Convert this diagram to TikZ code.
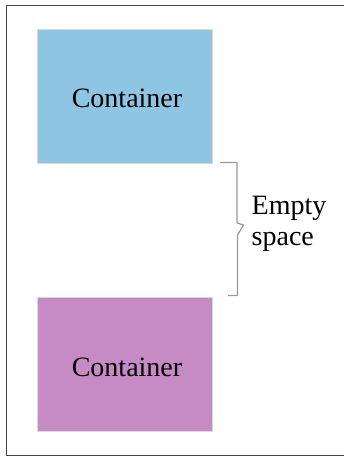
\documentclass[tikz,border=0pt]{standalone}
\usepackage{fontspec}
\setmainfont{Liberation Serif}
\newfontfamily\timesfont{Liberation Serif}
\definecolor{boxblue}{HTML}{8DC5E2}
\definecolor{boxpink}{HTML}{C68BC5}
\definecolor{framegray}{HTML}{444444}
\definecolor{bracegray}{HTML}{999999}
\begin{document}
\begin{tikzpicture}[x=1bp,y=-1bp,
  container/.style={draw=black!15, line width=0.6bp, minimum width=175bp, minimum height=134bp, inner sep=0pt,
    font=\timesfont\fontsize{28bp}{32bp}\selectfont, text depth=0pt},
  label/.style={font=\timesfont\fontsize{28bp}{31bp}\selectfont, align=left, inner sep=0pt}]
\useasboundingbox (0,0) rectangle (344,457);
\draw[framegray, line width=1.3bp] (344,5.5) -- (6.5,5.5) -- (6.5,455.5) -- (344,455.5);
\node[container, fill=boxblue] (top) at (124.5,96) {\hspace*{5bp}\raisebox{-5bp}{Container}};
\node[container, fill=boxpink] (bottom) at (124.5,364) {\hspace*{5bp}\raisebox{-6bp}{Container}};
\coordinate (bt) at (220,162.5);
\coordinate (bb) at (228,295.5);
\draw[bracegray, line width=1.2bp, line join=miter]
  (bt) -- (237,162.5) -- (237,223) -- (243.5,225) -- (237.5,235) -- (237.5,295.5) -- (bb);
\node[label, anchor=west] (empty) at (251.5,224) {Empty\\space};
\end{tikzpicture}
\end{document}
